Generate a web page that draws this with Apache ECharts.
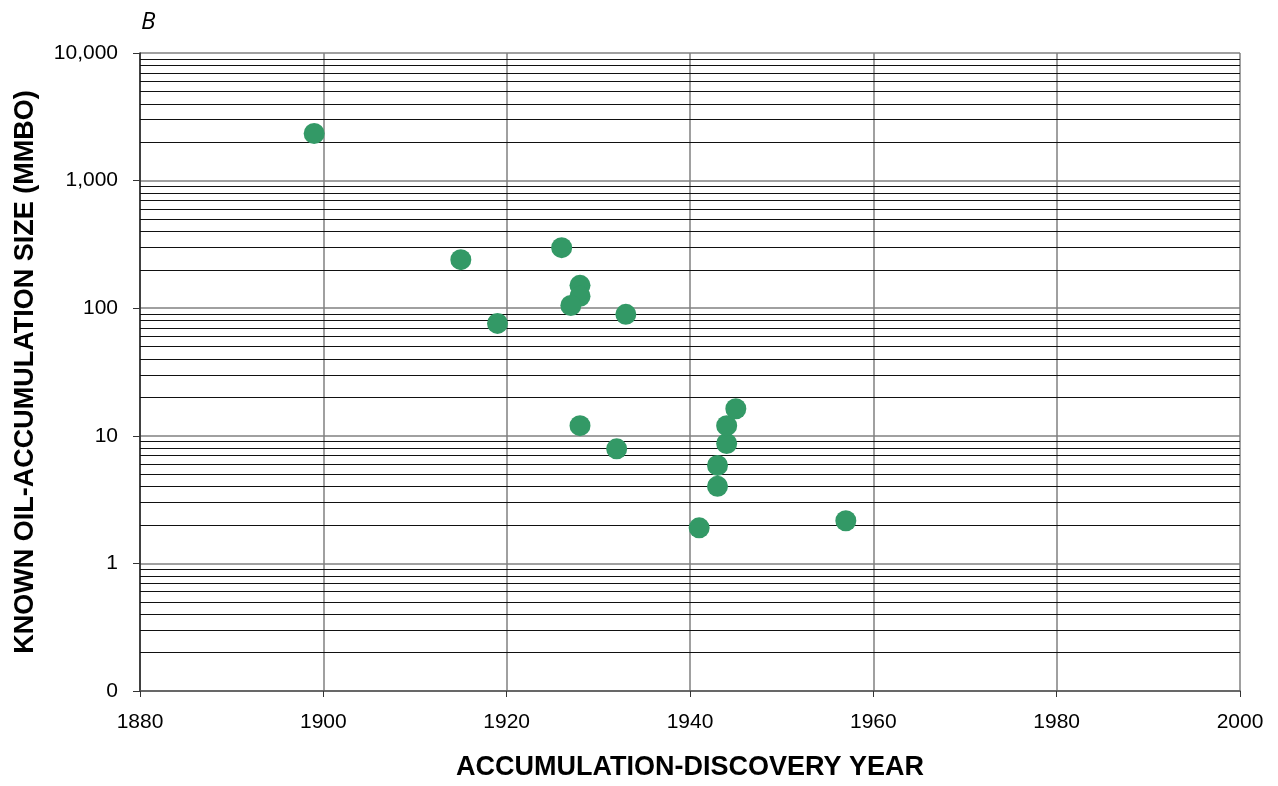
<!DOCTYPE html>
<html><head><meta charset="utf-8">
<script src="https://cdn.jsdelivr.net/npm/echarts@6/dist/echarts.min.js"></script>
<style>html,body{margin:0;padding:0;background:#fff}#c{width:1278px;height:786px}</style>
</head><body><div id="c"></div>
<script>
const years = [1899,1915,1919,1926,1928,1928,1927,1933,1928,1932,1941,1943,1943,1944,1944,1945,1957];
const sizes = [2340,240,76,298,151,124,105,89.5,12,7.9,1.9,5.86,4.02,8.7,12,16.3,2.16];
const xTicks = [1880,1900,1920,1940,1960,1980,2000];
const decades = [0.1,1,10,100,1000];
const minorMult = [2,3,4,5,6,7,8,9];

const minorLines = [];
decades.forEach(d => minorMult.forEach(m => minorLines.push({yAxis: d*m})));

const FONT = '"Liberation Sans", Arial, sans-serif';
const chart = echarts.init(document.getElementById('c'));
chart.setOption({
  animation:false,
  grid:{left:140,right:38,top:53,bottom:91,containLabel:false},
  graphic:[{type:'text',left:141,top:10,style:{text:'B',font:'italic 24px "Open Sans", sans-serif',fill:'#000'}}],
  xAxis:{type:'value',min:xTicks[0],max:xTicks[xTicks.length-1],interval:20,
    name:'ACCUMULATION-DISCOVERY YEAR',nameLocation:'middle',nameGap:63,
    nameTextStyle:{fontFamily:FONT,fontWeight:'bold',fontSize:27,color:'#000'},
    axisLine:{lineStyle:{color:'#555',width:1.5}},
    axisTick:{show:true,length:6,lineStyle:{color:'#333'}},
    axisLabel:{fontFamily:FONT,fontSize:21,color:'#000',margin:21,formatter:v=>String(v)},
    splitLine:{show:true,lineStyle:{color:'#808080',width:1.5}}
  },
  yAxis:{type:'log',logBase:10,min:0.1,max:10000,
    name:'KNOWN OIL-ACCUMULATION SIZE (MMBO)',nameLocation:'middle',nameGap:101,
    nameTextStyle:{fontFamily:FONT,fontWeight:'bold',fontSize:27,color:'#000'},
    axisLine:{show:true,lineStyle:{color:'#222',width:1.5}},
    axisTick:{show:true,length:7,lineStyle:{color:'#333'}},
    axisLabel:{fontFamily:FONT,fontSize:21,color:'#000',margin:22,
      formatter:v=> v<0.5 ? '0' : Math.round(v).toLocaleString('en-US')},
    splitLine:{show:true,lineStyle:{color:'#808080',width:1.5}}
  },
  series:[{
    type:'scatter',
    data:years.map((y,i)=>[y,sizes[i]]),
    symbolSize:21,
    itemStyle:{color:'#339966',opacity:1},
    z:5,
    markLine:{silent:true,symbol:'none',label:{show:false},animation:false,
      lineStyle:{color:'#111',width:1,type:'solid'},
      data:minorLines}
  }]
});
</script></body></html>
